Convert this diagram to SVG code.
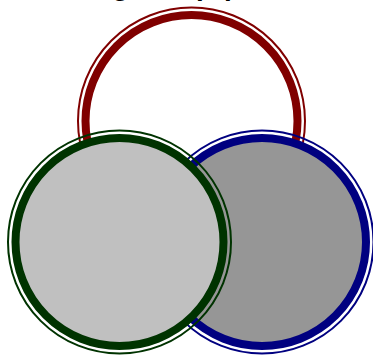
<svg xmlns="http://www.w3.org/2000/svg" width="373" height="355" viewBox="0 0 373 355">
<style>
.title{font-family:"Liberation Sans",Arial,sans-serif;font-weight:bold;font-size:28px;fill:#000}
.thin{fill:none;stroke-width:2}
.thick{stroke-width:8}
</style>
<rect width="373" height="355" fill="#fff"/>
<text class="title" x="112 196 224" y="-5.5">gpp</text>
<g id="red">
<circle class="thick" cx="191.5" cy="121" r="106" fill="none" stroke="#800000"/>
<circle class="thin" cx="191.5" cy="121" r="113.5" stroke="#800000"/>
</g>
<g id="blue">
<circle class="thick" cx="262" cy="242" r="104" fill="#969696" stroke="#000080"/>
<circle class="thin" cx="262" cy="242" r="111.5" stroke="#000080"/>
</g>
<g id="green">
<circle class="thick" cx="119.5" cy="242" r="104" fill="#c0c0c0" stroke="#003300"/>
<circle class="thin" cx="119.5" cy="242" r="111.5" stroke="#003300"/>
</g>
<g id="connectors"/>
</svg>
